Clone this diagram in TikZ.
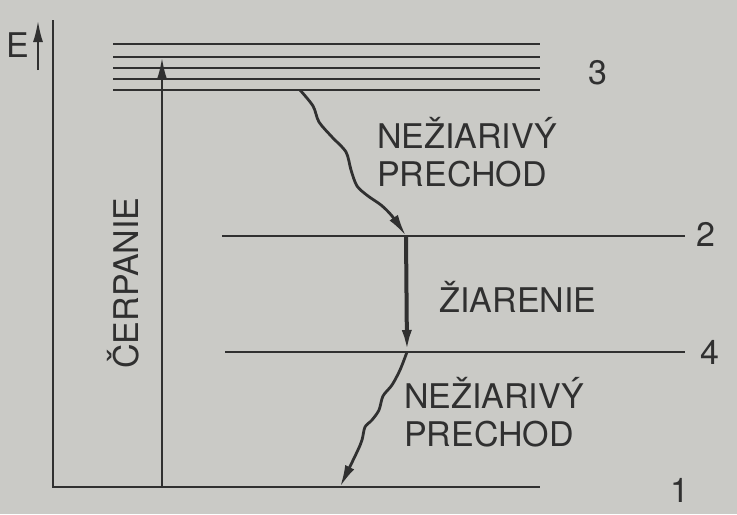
\documentclass[tikz,border=0pt]{standalone}
\usepackage{fontspec}
\setsansfont{TeX Gyre Heros}
\usetikzlibrary{arrows.meta,positioning}
\definecolor{paper}{RGB}{202,202,198}
\definecolor{ink}{RGB}{48,48,48}
\tikzset{
    level/.style = {ink, line width=1.4pt},
    tip/.style = {ink, line width=1.3pt, -{Latex[length=11pt,width=5pt]}},
    lab/.style = {text=ink, font=\sffamily\fontsize{17}{19}\selectfont, align=left, inner sep=0pt},
    wave/.style = {tip, smooth, line width=1.4pt}
}

\begin{document}
\begin{tikzpicture}[x=0.5pt,y=-0.5pt]
	\fill[paper] (0,0) rectangle (737,514);
	\useasboundingbox (0,0) rectangle (737,514);

	% axis
	\coordinate (top) at (53,20);
	\coordinate (orig) at (53,487);
	\coordinate (one) at (540,487);
	\draw[level] (top) -- (orig) -- (one);
	\coordinate (etail) at (38,70);
	\coordinate (ehead) at (38,20);
	\draw[tip] (etail) -- (ehead);
	\node[lab] (E) at (18,45) {E};

	% levels
	\foreach \y in {44,57,68,79,90}
	    \draw[level] (113,\y) -- (540,\y);
	\coordinate (twoL) at (222,236);
	\coordinate (twoR) at (685,236);
	\coordinate (fourL) at (225,352);
	\coordinate (fourR) at (685,352);
	\draw[level] (twoL) -- (twoR);
	\draw[level] (fourL) -- (fourR);

	\node[lab] (n3) at (598,73) {3};
	\node[lab] (n2) at (706,234) {2};
	\node[lab] (n4) at (710,352) {4};
	\node[lab] (n1) at (680,490) {1};

	% pumping
	\coordinate (pb) at (162,487);
	\coordinate (pt) at (162,57);
	\draw[tip] (pb) -- (pt);
	\node[lab, rotate=90] (cerp) at (123,283) {ČERPANIE};

	% transitions
	\coordinate (w1a) at (300,90);
	\coordinate (w1b) at (406,236);
	\coordinate (w2a) at (407,352);
	\coordinate (w2b) at (340,487);
	\draw[wave] plot coordinates {(w1a) (313,106) (319,122) (332,137) (346,152)
	    (351,170) (357,186) (368,196) (381,205) (392,216) (w1b)};
	\draw[tip, line width=2pt] (w1b) -- (w2a);
	\draw[wave] plot coordinates {(w2a) (400,370) (392,385) (383,396) (379,410)
	    (372,420) (365,427) (362,440) (357,452) (w2b)};

	\node[lab] (nz1) at (467,152) {NEŽIARIVÝ\\PRECHOD};
	\node[lab] (ziar) at (518,297) {ŽIARENIE};
	\node[lab] (nz2) at (494,412) {NEŽIARIVÝ\\PRECHOD};
\end{tikzpicture}
\end{document}
